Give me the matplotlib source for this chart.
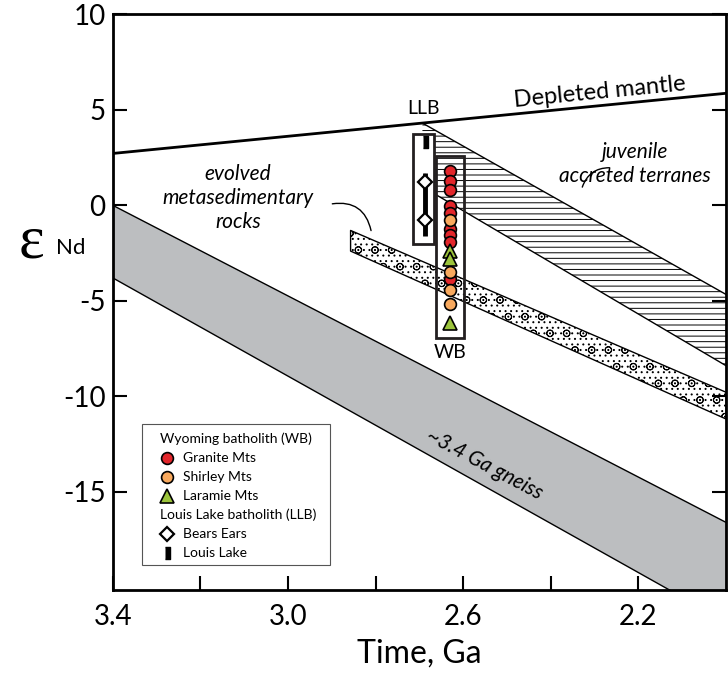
import matplotlib
matplotlib.use('Agg')
import matplotlib.pyplot as plt
from matplotlib.patches import Rectangle

plt.rcParams['font.family'] = ['Lato', 'DejaVu Sans']
plt.rcParams['hatch.linewidth'] = 0.7
plt.rcParams['axes.unicode_minus'] = False

# axis ticks
time_ticks = [3.4, 3.2, 3.0, 2.8, 2.6, 2.4, 2.2]
time_labels = ['3.4', '', '3.0', '', '2.6', '', '2.2']
eps_ticks = [10, 5, 0, -5, -10, -15]

# reference curves / fields (age in Ga, epsilon Nd)
mantle_t = [3.4, 2.0]
mantle_e = [2.7, 5.85]

gneiss_t = [3.4, 2.0]
gneiss_top = [0.0, -16.6]
gneiss_bot = [-3.8, -21.8]

metased_t = [2.857, 2.0]
metased_top = [-1.33, -9.8]
metased_bot = [-2.41, -11.2]

juvenile_t = [2.693, 2.0]
juvenile_top = [4.29, -4.68]
juvenile_bot = [0.96, -8.41]

# Wyoming batholith samples
wb_age = 2.631
granite_e = [1.78, 1.24, 0.8, -0.05, -0.4, -1.24, -1.59, -1.94, -3.86]
shirley_e = [-0.8, -3.51, -4.47, -5.17]
laramie_e = [-2.38, -2.81, -6.2]

# Louis Lake batholith samples
llb_age = 2.687
bears_e = [1.21, -0.77]
bears_range = [1.68, -1.64]
louis_e = [3.3]

red = '#e2262b'
orange = '#f8a95e'
green = '#9cc43c'
gray = '#bcbec0'
rect_marker = [(-0.4, -1), (0.4, -1), (0.4, 1), (-0.4, 1)]

fig = plt.figure(figsize=(7.28, 6.8), dpi=100)
ax = fig.add_axes([0.1548, 0.1324, 0.8425, 0.847])

# fields
ax.fill_between(gneiss_t, gneiss_bot, gneiss_top, facecolor=gray, edgecolor='black', lw=1, zorder=1)
ax.fill_between(metased_t, metased_bot, metased_top, facecolor='white', edgecolor='black',
                hatch='o...', lw=1, zorder=1)
ax.fill_between(juvenile_t, juvenile_bot, juvenile_top, facecolor='white', edgecolor='black',
                hatch='---', lw=0, zorder=1)
ax.plot(juvenile_t, juvenile_top, color='black', lw=1, zorder=2)
ax.plot(juvenile_t, juvenile_bot, color='black', lw=1, zorder=2)
ax.plot(mantle_t, mantle_e, color='black', lw=2, zorder=2)

# sample boxes
ax.add_patch(Rectangle((2.715, -2.02), 2.667 - 2.715, 3.74 + 2.02, facecolor='white',
                       edgecolor='#231f20', lw=2, zorder=3))
ax.add_patch(Rectangle((2.662, -6.95), 2.599 - 2.662, 2.55 + 6.95, facecolor='none',
                       edgecolor='#231f20', lw=2, zorder=3))

# LLB
ax.plot([llb_age, llb_age], bears_range, color='black', lw=3.5, solid_capstyle='butt', zorder=4)
ax.plot([llb_age] * len(bears_e), bears_e, 'D', mfc='white', mec='black', mew=1.6, ms=7, zorder=5)
ax.plot([llb_age] * len(louis_e), louis_e, marker=rect_marker, ls='none', color='black', ms=9, zorder=5)

# WB
ax.plot([wb_age] * len(granite_e), granite_e, 'o', mfc=red, mec='black', mew=1.2, ms=8.5, zorder=5)
ax.plot([wb_age] * len(shirley_e), shirley_e, 'o', mfc=orange, mec='black', mew=1.2, ms=8.5, zorder=6)
ax.plot([wb_age] * len(laramie_e), laramie_e, '^', mfc=green, mec='black', mew=1.2, ms=10.5, zorder=6)

# labels on the plot
ax.text(2.289, 5.91, 'Depleted mantle', fontsize=17, rotation=5.6, ha='center', va='center')
ax.text(2.69, 5.07, 'LLB', fontsize=14, ha='center', va='center')
ax.text(2.629, -7.72, 'WB', fontsize=14, ha='center', va='center')
ax.text(3.114, 0.35, 'evolved\nmetasedimentary\nrocks', fontsize=15, style='italic',
        ha='center', va='center', linespacing=1.25)
ax.text(2.207, 2.13, 'juvenile\naccreted terranes', fontsize=15, style='italic',
        ha='center', va='center', linespacing=1.25)
ax.text(2.552, -13.55, '~3.4 Ga gneiss', fontsize=15, style='italic', rotation=-28,
        ha='center', va='center')
ax.annotate('', xy=(2.809, -1.48), xytext=(2.905, 0.04),
            arrowprops=dict(arrowstyle='-', lw=1, connectionstyle='arc3,rad=-0.5'))
ax.annotate('', xy=(2.33, 0.8), xytext=(2.26, 1.95),
            arrowprops=dict(arrowstyle='-', lw=1, connectionstyle='arc3,rad=0.4'))

# legend drawn by hand
ax.add_patch(Rectangle((0.0478, 0.0434), 0.306, 0.2446, transform=ax.transAxes,
                       facecolor='white', edgecolor='#555555', lw=0.8, zorder=7))
legend_rows = [0.262, 0.229, 0.196, 0.163, 0.130, 0.097, 0.064]
legend_text = ['Wyoming batholith (WB)', 'Granite Mts', 'Shirley Mts', 'Laramie Mts',
               'Louis Lake batholith (LLB)', 'Bears Ears', 'Louis Lake']
for i, (yy, s) in enumerate(zip(legend_rows, legend_text)):
    xx = 0.077 if i in (0, 4) else 0.1146
    ax.text(xx, yy, s, transform=ax.transAxes, fontsize=10, va='center', zorder=8)
mk = 0.0885
ax.plot(mk, legend_rows[1], 'o', mfc=red, mec='black', mew=1.2, ms=8.5, transform=ax.transAxes, zorder=8, clip_on=False)
ax.plot(mk, legend_rows[2], 'o', mfc=orange, mec='black', mew=1.2, ms=8.5, transform=ax.transAxes, zorder=8, clip_on=False)
ax.plot(mk, legend_rows[3], '^', mfc=green, mec='black', mew=1.2, ms=10.5, transform=ax.transAxes, zorder=8, clip_on=False)
ax.plot(mk, legend_rows[5], 'D', mfc='white', mec='black', mew=1.6, ms=7, transform=ax.transAxes, zorder=8, clip_on=False)
ax.plot(mk, legend_rows[6], marker=rect_marker, color='black', ms=9, transform=ax.transAxes, zorder=8, clip_on=False)

# axes
ax.set_xlim(3.4, 2.0)
ax.set_ylim(-20.15, 10)
ax.set_xticks(time_ticks)
ax.set_xticklabels(time_labels)
ax.set_yticks(eps_ticks)
ax.tick_params(direction='in', length=10, width=1.5, labelsize=20, right=True)
ax.tick_params(axis='x', pad=10)
ax.tick_params(axis='y', pad=5)
for sp in ax.spines.values():
    sp.set_linewidth(2)
ax.set_xlabel('Time, Ga', fontsize=23, labelpad=6)

fig.text(0.0426, 0.643, 'ε', fontsize=44, family='Liberation Serif', ha='center', va='center')
fig.text(0.097, 0.635, 'Nd', fontsize=16, ha='center', va='center')

fig.savefig('out.png', dpi=100)
